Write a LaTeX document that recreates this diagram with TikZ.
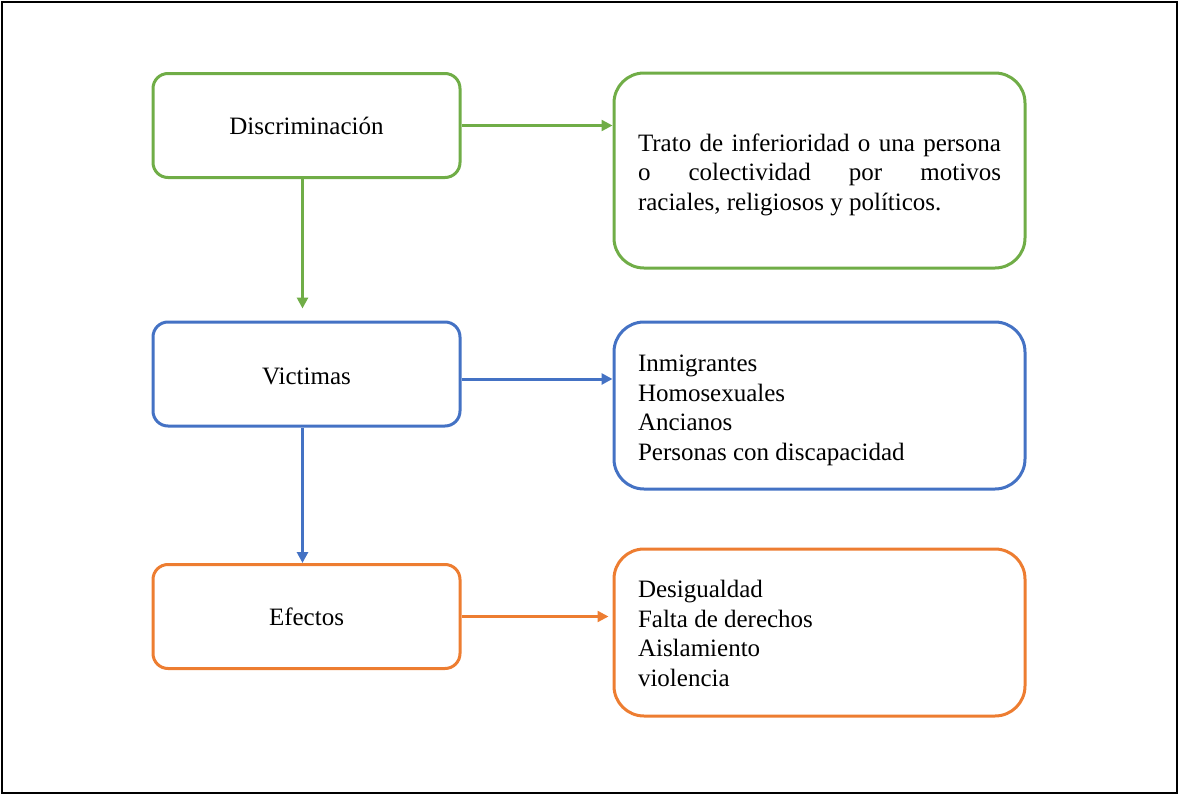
\documentclass[tikz,border=0pt]{standalone}
\usepackage{fontspec}
\setmainfont{Liberation Serif}
\usetikzlibrary{arrows.meta,calc}
\definecolor{cgreen}{HTML}{70AD47}
\definecolor{cblue}{HTML}{4472C4}
\definecolor{corange}{HTML}{ED7D31}
\newcommand{\boxtext}[2]{\raisebox{#1}[\height][\depth]{\parbox[c]{363pt}{\raggedright #2}}}
\begin{document}
\begin{tikzpicture}[x=1pt,y=-1pt,
  font=\fontsize{25}{29.5}\selectfont,
  leftbox/.style={draw=#1,line width=3pt,rounded corners=15pt,minimum width=307pt,minimum height=104pt,inner sep=0pt},
  rightbox/.style={draw=#1,line width=3pt,rounded corners=30pt,minimum width=411pt,inner sep=0pt},
  conn/.style={draw=#1,line width=2.4pt,-{Triangle[length=11pt,width=11pt]}}
]
\useasboundingbox (0,0) rectangle (1179,795);
\draw[line width=2pt] (2,2) rectangle (1177,793);

\node[leftbox=cgreen] (disc) at (306.5,125.5) {Discriminación};
\node[leftbox=cblue] (vict) at (306.5,374) {\raisebox{-2pt}[\height][\depth]{Victimas}};
\node[leftbox=corange] (efec) at (306.5,616.5) {Efectos};

\node[rightbox=cgreen,minimum height=195pt] (def) at (819.5,170.5)
  {\boxtext{-4pt}{\makebox[363pt][s]{Trato de inferioridad o una persona}\\
   \makebox[363pt][s]{o colectividad por motivos}\\
   raciales, religiosos y políticos.}};
\node[rightbox=cblue,minimum height=167pt] (vlist) at (819.5,405.5)
  {\boxtext{-5pt}{Inmigrantes\\Homosexuales\\Ancianos\\Personas con discapacidad}};
\node[rightbox=corange,minimum height=167pt] (elist) at (819.5,632.5)
  {\boxtext{-1pt}{Desigualdad\\Falta de derechos\\Aislamiento\\violencia}};

\draw[conn=cgreen] (disc.east) -- (disc.east -| def.west);
\draw[conn=cgreen,line width=3pt,shorten >=12pt] ([xshift=-4pt]disc.south) -- ([xshift=-4pt]vict.north);
\draw[conn=cblue,line width=3pt] ([yshift=-5pt]vict.east) -- ([yshift=-5pt]vict.east -| vlist.west);
\draw[conn=cblue,line width=3pt] ([xshift=-4pt]vict.south) -- ([xshift=-4pt]efec.north);
\draw[conn=corange,shorten >=4pt] (efec.east) -- (efec.east -| elist.west);
\end{tikzpicture}
\end{document}
